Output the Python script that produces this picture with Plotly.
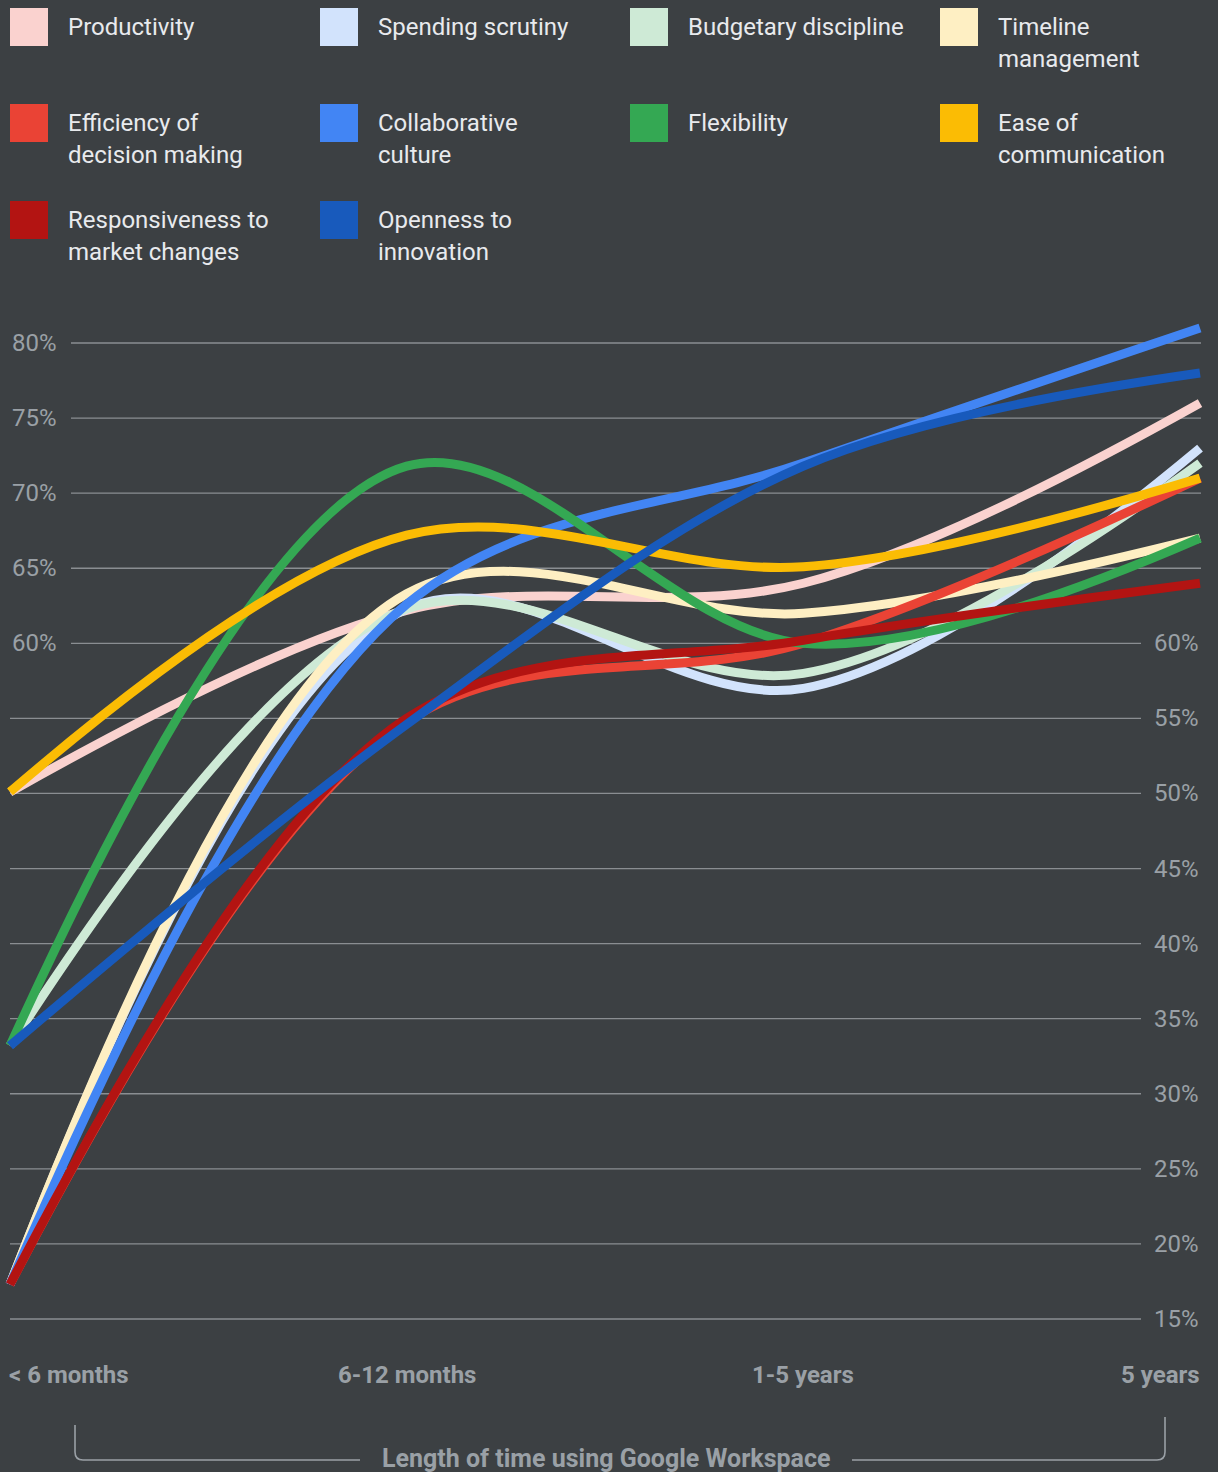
import plotly.graph_objects as go

# ---------------- data ----------------
categories = ["< 6 months", "6-12 months", "1-5 years", "5 years"]

series_names = [
    "Productivity", "Spending scrutiny", "Budgetary discipline", "Timeline management",
    "Efficiency of decision making", "Collaborative culture", "Flexibility", "Ease of communication",
    "Responsiveness to market changes", "Openness to innovation",
]
legend_lines = [
    ["Productivity"], ["Spending scrutiny"], ["Budgetary discipline"], ["Timeline", "management"],
    ["Efficiency of", "decision making"], ["Collaborative", "culture"], ["Flexibility"], ["Ease of", "communication"],
    ["Responsiveness to", "market changes"], ["Openness to", "innovation"],
]

productivity = [50.1, 62.2, 64.0, 76.0]
spending = [17.3, 62.3, 57.0, 73.0]
budgetary = [33.2, 62.3, 58.0, 72.0]
timeline = [17.3, 63.3, 62.0, 67.0]
efficiency = [17.3, 54.8, 60.0, 71.0]
collaborative = [17.3, 62.6, 72.0, 81.0]
flexibility = [33.2, 71.8, 60.0, 67.0]
ease = [50.1, 67.2, 65.1, 71.0]
responsiveness = [17.3, 55.0, 60.2, 64.0]
openness = [33.2, 54.6, 71.8, 78.0]

series_values = [productivity, spending, budgetary, timeline, efficiency,
                 collaborative, flexibility, ease, responsiveness, openness]

colors = ["#fad2cf", "#d2e3fc", "#ceead6", "#feefc3", "#ea4335",
          "#4285f4", "#34a853", "#fbbc04", "#b31412", "#185abc"]

left_ticks = [80, 75, 70, 65, 60]
right_ticks = [60, 55, 50, 45, 40, 35, 30, 25, 20, 15]
axis_title = "Length of time using Google Workspace"

# ---------------- layout constants ----------------
W, H = 1218, 1472
BG = "#3c4043"
FONT = "Roboto"
GRID = "#8a8e92"
MUTED = "#9aa0a6"
TEXT = "#e8eaed"

Y80_PX = 343.0
PX_PER_PCT = (1319.0 - 343.0) / 65.0
X_FIRST_PX, X_LAST_PX = 10.0, 1200.0
UNIT = (X_LAST_PX - X_FIRST_PX) / (len(categories) - 1)


def fx(x):
    return x / W


def fy(y):
    return 1 - y / H


yrange = [80 - (H - Y80_PX) / PX_PER_PCT, 80 + Y80_PX / PX_PER_PCT]
xrange = [-X_FIRST_PX / UNIT, (len(categories) - 1) + (W - X_LAST_PX) / UNIT]

fig = go.Figure()

for name, vals, col in zip(series_names, series_values, colors):
    fig.add_trace(go.Scatter(
        x=categories, y=vals, name=name, mode="lines",
        line=dict(color=col, width=9, shape="spline", smoothing=1.0),
        hoverinfo="skip",
    ))

shapes = []
annotations = []

# gridlines
for t in sorted(set(left_ticks + right_ticks)):
    x0 = 71 if t in left_ticks else 10
    x1 = 1141 if t in right_ticks else 1201
    shapes.append(dict(type="line", xref="paper", yref="y", x0=fx(x0), x1=fx(x1), y0=t, y1=t,
                       line=dict(color=GRID, width=1.3), layer="below"))

for t in left_ticks:
    annotations.append(dict(xref="paper", yref="y", x=fx(10), y=t, text=f"{t}%", showarrow=False,
                            xanchor="left", yanchor="middle",
                            font=dict(family=FONT, size=24, color=MUTED)))
for t in right_ticks:
    annotations.append(dict(xref="paper", yref="y", x=fx(1201), y=t, text=f"{t}%", showarrow=False,
                            xanchor="right", yanchor="middle",
                            font=dict(family=FONT, size=24, color=MUTED)))

# category labels
anchors = ["left", "center", "center", "right"]
for i, (c, a) in enumerate(zip(categories, anchors)):
    xpos = X_FIRST_PX + i * UNIT
    if a == "left":
        xpos = 7
    elif a == "right":
        xpos = 1202
    annotations.append(dict(xref="paper", yref="paper", x=fx(xpos), y=fy(1375), text=c, showarrow=False,
                            xanchor=a, yanchor="middle",
                            font=dict(family=FONT, size=24, color=MUTED, weight="bold")))

# axis title with bracket
annotations.append(dict(xref="paper", yref="paper", x=fx(606), y=fy(1458), text=axis_title, showarrow=False,
                        xanchor="center", yanchor="middle",
                        font=dict(family=FONT, size=25, color=MUTED, weight="bold")))
r = 8
left_path = (f"M {fx(75)},{fy(1425)} L {fx(75)},{fy(1460 - r)} "
             f"Q {fx(75)},{fy(1460)} {fx(75 + r)},{fy(1460)} L {fx(360)},{fy(1460)}")
right_path = (f"M {fx(852)},{fy(1460)} L {fx(1165 - r)},{fy(1460)} "
              f"Q {fx(1165)},{fy(1460)} {fx(1165)},{fy(1460 - r)} L {fx(1165)},{fy(1417)}")
for p in (left_path, right_path):
    shapes.append(dict(type="path", xref="paper", yref="paper", path=p,
                       line=dict(color=MUTED, width=1.6)))

# legend
col_x = [10, 320, 630, 940]
row_y = [8, 104, 201]
for i, (lines, col) in enumerate(zip(legend_lines, colors)):
    rr, cc = divmod(i, 4)
    x0, y0 = col_x[cc], row_y[rr]
    shapes.append(dict(type="rect", xref="paper", yref="paper",
                       x0=fx(x0), x1=fx(x0 + 38), y0=fy(y0), y1=fy(y0 + 38),
                       fillcolor=col, line=dict(width=0)))
    for k, ln in enumerate(lines):
        annotations.append(dict(xref="paper", yref="paper", x=fx(x0 + 56), y=fy(y0 + 19 + 32 * k),
                                text=ln, showarrow=False, xanchor="left", yanchor="middle",
                                font=dict(family=FONT, size=24, color=TEXT)))

fig.update_layout(
    width=W, height=H, autosize=False,
    margin=dict(l=0, r=0, t=0, b=0, pad=0),
    paper_bgcolor=BG, plot_bgcolor=BG,
    showlegend=False,
    xaxis=dict(visible=False, range=xrange, type="category", fixedrange=True),
    yaxis=dict(visible=False, range=yrange, fixedrange=True),
    shapes=shapes, annotations=annotations,
)

fig.write_html("out.html", config={"displayModeBar": False, "staticPlot": True},
               post_script="document.body.style.margin='0';document.body.style.overflow='hidden';")
